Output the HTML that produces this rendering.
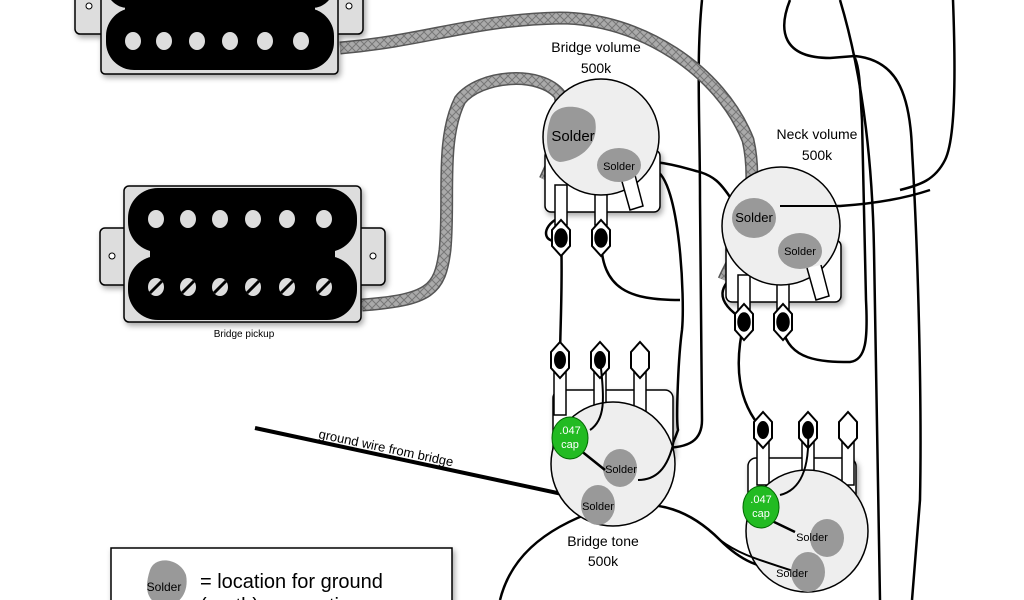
<!DOCTYPE html>
<html><head><meta charset="utf-8"><style>
html,body{margin:0;padding:0;background:#fff;overflow:hidden}
svg{display:block;font-family:"Liberation Sans",Arial,sans-serif}
</style></head><body>
<svg width="1024" height="600" viewBox="0 0 1024 600" xmlns="http://www.w3.org/2000/svg">
<defs>
<pattern id="braid" width="8" height="8" patternUnits="userSpaceOnUse">
<rect width="8" height="8" fill="#aaa"/>
<path d="M0 0L8 8M8 0L0 8" stroke="#777" stroke-width="1"/>
</pattern>
<filter id="sh" x="-10%" y="-10%" width="130%" height="130%"><feDropShadow dx="2" dy="3" stdDeviation="3" flood-opacity="0.35"/></filter>
</defs>
<rect width="1024" height="600" fill="#fff"/>

<g fill="none" stroke="#000" stroke-width="2.5">
<path d="M702 0 C696 60 700 120 700 200 L702 420 C702 440 690 448 662 448"/>
<path d="M790 0 C778 30 782 58 830 58 L855 56"/>
<path d="M840 0 C858 60 872 140 874 250 C876 350 878 450 880 600"/>
<path d="M783 330 C790 360 820 362 850 362 C866 360 868 340 866 300 L862 120 C860 90 860 70 855 58"/>
<path d="M855 56 C895 60 910 90 912 150 C918 250 922 400 920 500 L912 600"/>
<path d="M953 0 C956 80 955 140 945 160 C935 180 920 185 900 190"/>
<path d="M655 162 C680 165 690 170 700 172 C712 176 720 180 735 205"/>
<path d="M780 206 L840 206 C870 204 900 200 930 190"/>
<path d="M655 170 C680 180 685 300 682 330 C678 360 676 420 678 430 C660 480 680 390 640 395"/>
<path d="M561 238 C563 280 560 330 560 360"/>
<path d="M601 238 C601 290 630 300 680 300"/>
<path d="M744 322 C735 360 735 400 763 430"/>
<path d="M612 505 C660 500 690 510 720 540 C740 560 760 570 790 570"/>
<path d="M598 510 C540 530 510 560 500 600"/>
<path d="M555 220 C540 230 545 245 561 240"/>
<path d="M740 270 C720 285 712 300 744 320"/>
</g>
<path d="M255 428 L590 500" stroke="#000" stroke-width="4"/>
<text x="318" y="438" font-size="13" transform="rotate(12 318 438)">ground wire from bridge</text>

<path d="M340 48 C430 40 470 20 560 18 C640 18 720 70 748 140 C755 170 752 210 742 240 C735 260 728 270 724 280" fill="none" stroke="#555" stroke-width="13"/>
<path d="M340 48 C430 40 470 20 560 18 C640 18 720 70 748 140 C755 170 752 210 742 240 C735 260 728 270 724 280" fill="none" stroke="url(#braid)" stroke-width="10"/>
<path d="M362 305 C430 300 440 290 445 250 C450 200 440 140 460 100 C480 75 540 70 560 95 C565 120 560 150 545 180" fill="none" stroke="#555" stroke-width="13"/>
<path d="M362 305 C430 300 440 290 445 250 C450 200 440 140 460 100 C480 75 540 70 560 95 C565 120 560 150 545 180" fill="none" stroke="url(#braid)" stroke-width="10"/>

<g filter="url(#sh)">
<rect x="75" y="-10" width="288" height="44" rx="5" fill="#ddd" stroke="#000" stroke-width="1.5"/>
<rect x="101" y="-20" width="237" height="94" rx="4" fill="#ddd" stroke="#000" stroke-width="1.5"/>
</g>
<rect x="106" y="-40" width="228" height="48" rx="22" fill="#000"/>
<rect x="106" y="8" width="228" height="62" rx="28" fill="#000"/>
<rect x="125" y="0" width="190" height="20" fill="#000"/>
<circle cx="89" cy="6" r="3" fill="#fff" stroke="#000"/>
<circle cx="349" cy="6" r="3" fill="#fff" stroke="#000"/>
<g fill="#ddd"><ellipse cx="133" cy="41" rx="8" ry="9"/><ellipse cx="164" cy="41" rx="8" ry="9"/><ellipse cx="197" cy="41" rx="8" ry="9"/><ellipse cx="230" cy="41" rx="8" ry="9"/><ellipse cx="265" cy="41" rx="8" ry="9"/><ellipse cx="301" cy="41" rx="8" ry="9"/></g>

<g filter="url(#sh)">
<rect x="100" y="228" width="285" height="57" rx="5" fill="#ddd" stroke="#000" stroke-width="1.5"/>
<rect x="124" y="186" width="237" height="136" rx="5" fill="#ddd" stroke="#000" stroke-width="1.5"/>
</g>
<rect x="128" y="188" width="229" height="64" rx="30" fill="#000"/>
<rect x="128" y="256" width="229" height="64" rx="30" fill="#000"/>
<rect x="150" y="240" width="185" height="30" fill="#000"/>
<circle cx="112" cy="256" r="3" fill="#fff" stroke="#000"/>
<circle cx="373" cy="256" r="3" fill="#fff" stroke="#000"/>
<g fill="#ddd"><ellipse cx="156" cy="219" rx="8" ry="9"/><ellipse cx="188" cy="219" rx="8" ry="9"/><ellipse cx="220" cy="219" rx="8" ry="9"/><ellipse cx="253" cy="219" rx="8" ry="9"/><ellipse cx="287" cy="219" rx="8" ry="9"/><ellipse cx="324" cy="219" rx="8" ry="9"/>
<ellipse cx="156" cy="287" rx="8" ry="9"/><ellipse cx="188" cy="287" rx="8" ry="9"/><ellipse cx="220" cy="287" rx="8" ry="9"/><ellipse cx="253" cy="287" rx="8" ry="9"/><ellipse cx="287" cy="287" rx="8" ry="9"/><ellipse cx="324" cy="287" rx="8" ry="9"/></g>
<g stroke="#000" stroke-width="3"><path d="M150 293L162 281M182 293L194 281M214 293L226 281M247 293L259 281M281 293L293 281M318 293L330 281"/></g>
<text x="244" y="337" font-size="10" text-anchor="middle">Bridge pickup</text>

<g stroke="#000" stroke-width="1.5">
<rect x="545" y="150" width="115" height="62" rx="6" fill="#fff" filter="url(#sh)"/>
<rect x="555" y="185" width="12" height="40" fill="#fff"/><rect x="595" y="185" width="12" height="40" fill="#fff"/>
<circle cx="601" cy="137" r="58" fill="#eee"/>
<path d="M621 178 L630 210 L643 206 L635 175" fill="#fff"/>
<path d="M552 230 l9-10 l9 10 v16 l-9 10 l-9-10z M592 230 l9-10 l9 10 v16 l-9 10 l-9-10z" fill="#fff" stroke-width="2"/>
<ellipse cx="561" cy="238" rx="6" ry="9" fill="#000"/><ellipse cx="601" cy="238" rx="6" ry="9" fill="#000"/>
</g>
<path d="M550 120 C555 100 590 105 595 120 C600 145 580 160 560 162 C545 160 545 135 550 120z" fill="#999"/>
<text x="573" y="141" font-size="15" text-anchor="middle">Solder</text>
<ellipse cx="619" cy="165" rx="22" ry="17" fill="#999"/>
<text x="619" y="170" font-size="11" text-anchor="middle">Solder</text>
<text x="596" y="52" font-size="14" text-anchor="middle">Bridge volume</text>
<text x="596" y="73" font-size="14" text-anchor="middle">500k</text>

<g stroke="#000" stroke-width="1.5">
<rect x="726" y="240" width="115" height="62" rx="6" fill="#fff" filter="url(#sh)"/>
<rect x="738" y="275" width="12" height="40" fill="#fff"/><rect x="777" y="275" width="12" height="40" fill="#fff"/>
<circle cx="781" cy="226" r="59" fill="#eee"/>
<path d="M807 268 L816 300 L829 296 L821 265" fill="#fff"/>
<path d="M735 314 l9-10 l9 10 v16 l-9 10 l-9-10z M774 314 l9-10 l9 10 v16 l-9 10 l-9-10z" fill="#fff" stroke-width="2"/>
<ellipse cx="744" cy="322" rx="6" ry="9" fill="#000"/><ellipse cx="783" cy="322" rx="6" ry="9" fill="#000"/>
</g>
<path d="M780 206 L840 206" stroke="#000" stroke-width="2"/>
<ellipse cx="754" cy="218" rx="22" ry="20" fill="#999"/>
<text x="754" y="222" font-size="13" text-anchor="middle">Solder</text>
<ellipse cx="800" cy="251" rx="22" ry="18" fill="#999"/>
<text x="800" y="255" font-size="11" text-anchor="middle">Solder</text>
<text x="817" y="139" font-size="14" text-anchor="middle">Neck volume</text>
<text x="817" y="160" font-size="14" text-anchor="middle">500k</text>

<g stroke="#000" stroke-width="1.5">
<rect x="553" y="390" width="120" height="70" rx="8" fill="#fff" filter="url(#sh)"/>
<rect x="554" y="365" width="12" height="50" fill="#fff"/><rect x="594" y="365" width="12" height="50" fill="#fff"/><rect x="634" y="365" width="12" height="50" fill="#fff"/>
<path d="M551 352 l9-10 l9 10 v16 l-9 10 l-9-10z M591 352 l9-10 l9 10 v16 l-9 10 l-9-10z M631 352 l9-10 l9 10 v16 l-9 10 l-9-10z" fill="#fff" stroke-width="2"/>
<circle cx="613" cy="464" r="62" fill="#eee"/>
</g>
<ellipse cx="560" cy="360" rx="6" ry="9" fill="#000"/><ellipse cx="600" cy="360" rx="6" ry="9" fill="#000"/>
<path d="M600 360 C605 400 605 420 590 430" fill="none" stroke="#000" stroke-width="2"/>
<path d="M638 480 C655 480 668 470 674 440" fill="none" stroke="#000" stroke-width="2"/>
<ellipse cx="620" cy="468" rx="17" ry="19" fill="#999"/>
<text x="621" y="473" font-size="11" text-anchor="middle">Solder</text>
<ellipse cx="598" cy="505" rx="17" ry="20" fill="#999"/>
<text x="598" y="510" font-size="11" text-anchor="middle">Solder</text>
<path d="M580 450 L605 470" stroke="#000" stroke-width="2.5"/>
<ellipse cx="570" cy="438" rx="18" ry="21" fill="#2b2" stroke="#060"/>
<text x="570" y="434" font-size="11" fill="#fff" text-anchor="middle">.047</text>
<text x="570" y="448" font-size="11" fill="#fff" text-anchor="middle">cap</text>
<text x="603" y="546" font-size="14" text-anchor="middle">Bridge tone</text>
<text x="603" y="566" font-size="14" text-anchor="middle">500k</text>

<g stroke="#000" stroke-width="1.5">
<rect x="748" y="458" width="108" height="70" rx="8" fill="#fff" filter="url(#sh)"/>
<rect x="757" y="435" width="12" height="50" fill="#fff"/><rect x="802" y="435" width="12" height="50" fill="#fff"/><rect x="842" y="435" width="12" height="50" fill="#fff"/>
<path d="M754 422 l9-10 l9 10 v16 l-9 10 l-9-10z M799 422 l9-10 l9 10 v16 l-9 10 l-9-10z M839 422 l9-10 l9 10 v16 l-9 10 l-9-10z" fill="#fff" stroke-width="2"/>
<circle cx="807" cy="531" r="61" fill="#eee"/>
</g>
<ellipse cx="763" cy="430" rx="6" ry="9" fill="#000"/><ellipse cx="808" cy="430" rx="6" ry="9" fill="#000"/>
<path d="M808 430 C810 470 800 490 780 495" fill="none" stroke="#000" stroke-width="2"/>
<path d="M720 540 C740 555 760 560 790 570" fill="none" stroke="#000" stroke-width="2"/>
<ellipse cx="827" cy="538" rx="17" ry="19" fill="#999"/>
<text x="812" y="541" font-size="11" text-anchor="middle">Solder</text>
<ellipse cx="808" cy="572" rx="17" ry="20" fill="#999"/>
<text x="792" y="577" font-size="11" text-anchor="middle">Solder</text>
<path d="M770 520 L795 532" stroke="#000" stroke-width="2.5"/>
<ellipse cx="761" cy="507" rx="18" ry="21" fill="#2b2" stroke="#060"/>
<text x="761" y="503" font-size="11" fill="#fff" text-anchor="middle">.047</text>
<text x="761" y="517" font-size="11" fill="#fff" text-anchor="middle">cap</text>

<rect x="111" y="548" width="341" height="70" fill="#fff" stroke="#000" stroke-width="1.5" filter="url(#sh)"/>
<path d="M150 570 C155 555 180 558 186 575 C190 595 175 610 160 605 C145 600 145 585 150 570z" fill="#999"/>
<text x="164" y="591" font-size="12" text-anchor="middle">Solder</text>
<text x="200" y="588" font-size="20">= location for ground</text>
<text x="200" y="612" font-size="20">(earth) connections</text>
</svg>
</body></html>
